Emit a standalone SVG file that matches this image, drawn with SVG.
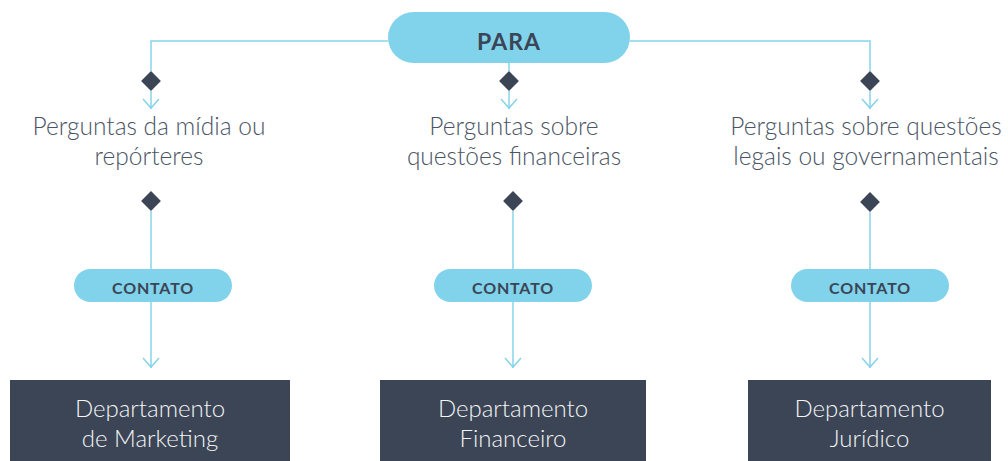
<svg xmlns="http://www.w3.org/2000/svg" width="1008" height="461" viewBox="0 0 1008 461">
  <defs>
    <style>
      .pill { fill: #80d3ea; }
      .line { fill: none; stroke: #86d3ea; stroke-width: 1.5; }
      .dia { fill: #3b4556; }
      .box { fill: #3c4555; }
      .q { font-family: Lato, "Open Sans", sans-serif; font-weight: 300; font-size: 24.5px; fill: #4a5465; text-anchor: middle; }
      .dept { font-family: Lato, "Open Sans", sans-serif; font-weight: 300; font-size: 24px; fill: #f2f4f6; text-anchor: middle; }
      .lbl { font-family: Lato, "Open Sans", sans-serif; font-weight: bold; fill: #3b4556; text-anchor: middle; }
    </style>
    <marker id="arr" viewBox="0 0 12 18" refX="11" refY="9" markerWidth="12" markerHeight="18" markerUnits="userSpaceOnUse" orient="auto">
      <path d="M1,1 L10,9 L1,17" fill="none" stroke="#86d3ea" stroke-width="1.5"/>
    </marker>
  </defs>

  <g id="connectors">
    <path class="line" d="M388,41 H151 V71"/>
    <path class="line" d="M630,41 H870 V71"/>
    <path class="line" d="M509,63 V71"/>
    <path class="line" d="M151,91 V109" marker-end="url(#arr)"/>
    <path class="line" d="M509,91 V109" marker-end="url(#arr)"/>
    <path class="line" d="M870,91 V109" marker-end="url(#arr)"/>
    <path class="line" d="M151,211 V368" marker-end="url(#arr)"/>
    <path class="line" d="M513,211 V368" marker-end="url(#arr)"/>
    <path class="line" d="M870,212 V368" marker-end="url(#arr)"/>
  </g>

  <g id="para">
    <rect class="pill" x="388" y="12" width="242" height="51" rx="25.5"/>
    <text class="lbl" x="509" y="50" font-size="23" letter-spacing="1">PARA</text>
  </g>

  <g id="diamonds">
    <rect class="dia" x="-7" y="-7" width="14" height="14" transform="translate(151,81) rotate(45)"/>
    <rect class="dia" x="-7" y="-7" width="14" height="14" transform="translate(509,81) rotate(45)"/>
    <rect class="dia" x="-7" y="-7" width="14" height="14" transform="translate(870,81) rotate(45)"/>
    <rect class="dia" x="-7" y="-7" width="14" height="14" transform="translate(151,201) rotate(45)"/>
    <rect class="dia" x="-7" y="-7" width="14" height="14" transform="translate(513,201) rotate(45)"/>
    <rect class="dia" x="-7" y="-7" width="14" height="14" transform="translate(870,202) rotate(45)"/>
  </g>

  <g id="q-midia">
    <text class="q" x="149" y="135">Perguntas da mídia ou</text>
    <text class="q" x="149" y="165">repórteres</text>
  </g>
  <g id="q-financeiras">
    <text class="q" x="514" y="135">Perguntas sobre</text>
    <text class="q" x="514" y="165">questões financeiras</text>
  </g>
  <g id="q-legais">
    <text class="q" x="866" y="135">Perguntas sobre questões</text>
    <text class="q" x="866" y="165">legais ou governamentais</text>
  </g>

  <g id="contato-1">
    <rect class="pill" x="74" y="269" width="158" height="33" rx="16.5"/>
    <text class="lbl" x="153" y="294" font-size="16" letter-spacing="0.8">CONTATO</text>
  </g>
  <g id="contato-2">
    <rect class="pill" x="434" y="269" width="158" height="33" rx="16.5"/>
    <text class="lbl" x="513" y="294" font-size="16" letter-spacing="0.8">CONTATO</text>
  </g>
  <g id="contato-3">
    <rect class="pill" x="791" y="269" width="158" height="33" rx="16.5"/>
    <text class="lbl" x="870" y="294" font-size="16" letter-spacing="0.8">CONTATO</text>
  </g>

  <g id="dept-marketing">
    <rect class="box" x="10" y="380" width="280" height="81"/>
    <text class="dept" x="150" y="417">Departamento</text>
    <text class="dept" x="150" y="447">de Marketing</text>
  </g>
  <g id="dept-financeiro">
    <rect class="box" x="380" y="380" width="266" height="81"/>
    <text class="dept" x="513" y="417">Departamento</text>
    <text class="dept" x="513" y="447">Financeiro</text>
  </g>
  <g id="dept-juridico">
    <rect class="box" x="748" y="380" width="243" height="81"/>
    <text class="dept" x="869.5" y="417">Departamento</text>
    <text class="dept" x="869.5" y="447">Jurídico</text>
  </g>
</svg>
